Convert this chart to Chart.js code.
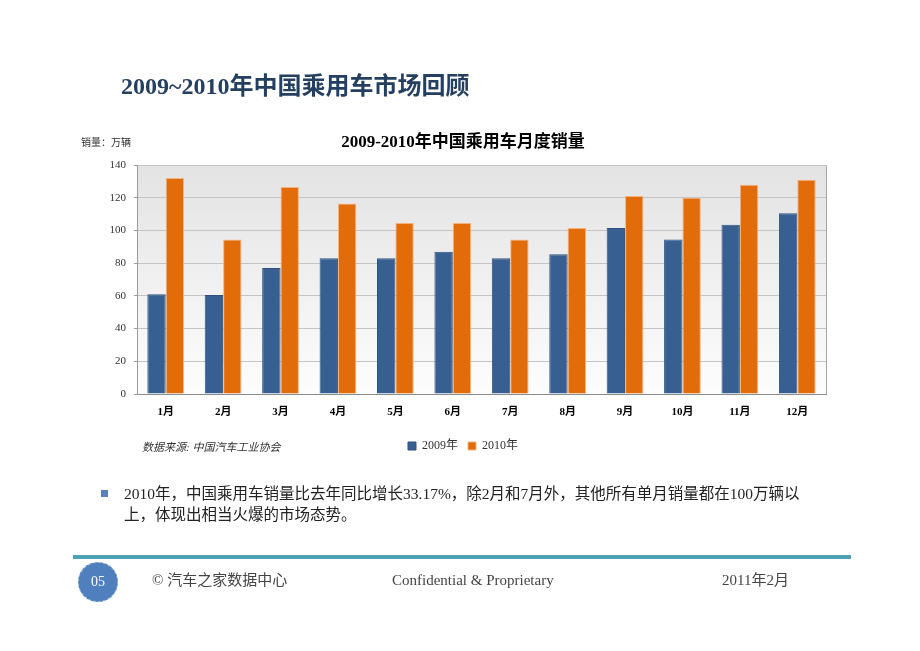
<!DOCTYPE html>
<html>
<head>
<meta charset="utf-8">
<script src="https://cdn.jsdelivr.net/npm/chart.js@4/dist/chart.umd.min.js"></script>
<style>
  html, body { margin: 0; padding: 0; background: #fff; }
  #wrap { position: relative; width: 920px; height: 651px; overflow: hidden; background: #fff; }
  #c { position: absolute; left: 0; top: 0; }
  .t { position: absolute; white-space: nowrap; font-family: "Liberation Serif", "Noto Sans CJK SC", serif; }
  #pageTitle { left: 121px; top: 70px; font-size: 24px; font-weight: bold; color: #243f60; line-height: 32px; }
  #unit { left: 81px; top: 134px; font-size: 10px; color: #333; }
  #src { left: 142px; top: 438px; font-size: 11px; font-style: italic; color: #333; }
  #bulletSq { position: absolute; left: 101px; top: 490px; width: 7px; height: 7px; background: #5a84b9; }
  #bullet { left: 124px; top: 483px; font-size: 15.5px; color: #222; line-height: 21px; }
  #rule { position: absolute; left: 73px; top: 555px; width: 778px; height: 4px; background: #4fa2b6; }
  #circle { position: absolute; left: 78px; top: 562px; width: 38px; height: 38px; border-radius: 50%; background: #4f7fbd; border: 1px dashed #8fb0d8; color: #fff; font-family: "Liberation Serif", serif; font-size: 14px; text-align: center; line-height: 38px; }
  .foot { top: 571px; font-size: 15px; color: #444; line-height: 18px; }
</style>
</head>
<body>
<div id="wrap">
  <canvas id="c" width="920" height="651"></canvas>
  <div class="t" id="pageTitle">2009~2010年中国乘用车市场回顾</div>
  <div class="t" id="unit">销量：万辆</div>
  <div class="t" id="src">数据来源: 中国汽车工业协会</div>
  <div id="bulletSq"></div>
  <div class="t" id="bullet">2010年，中国乘用车销量比去年同比增长33.17%，除2月和7月外，其他所有单月销量都在100万辆以<br>上，体现出相当火爆的市场态势。</div>
  <div id="rule"></div>
  <div id="circle">05</div>
  <div class="t foot" style="left:152px">© 汽车之家数据中心</div>
  <div class="t foot" style="left:392px">Confidential &amp; Proprietary</div>
  <div class="t foot" style="left:722px">2011年2月</div>
</div>
<script>
const chartTitle = "2009-2010年中国乘用车月度销量";
const months = ["1月","2月","3月","4月","5月","6月","7月","8月","9月","10月","11月","12月"];
const seriesNames = ["2009年", "2010年"];
const sales2009 = [61, 60.5, 77, 83, 83, 87, 83, 85.5, 101.5, 94.5, 103.5, 110.5];
const sales2010 = [132, 94.5, 126.5, 116.5, 104.5, 104.5, 94.5, 101.5, 121, 120, 128, 131];
const yMin = 0, yMax = 140, yStep = 20;

const FONT = "'Liberation Serif', 'Noto Sans CJK SC', serif";

const plotBg = {
  id: 'plotBg',
  beforeDraw(chart) {
    const {ctx, chartArea: a} = chart;
    ctx.save();
    const g = ctx.createLinearGradient(0, a.top, 0, a.bottom);
    g.addColorStop(0, '#e3e3e3');
    g.addColorStop(1, '#fdfdfd');
    ctx.fillStyle = g;
    ctx.fillRect(a.left, a.top, a.right - a.left, a.bottom - a.top);
    ctx.strokeStyle = '#a6a6a6';
    ctx.lineWidth = 1;
    ctx.beginPath();
    ctx.moveTo(a.left, a.top + 0.5);
    ctx.lineTo(a.right + 0.5, a.top + 0.5);
    ctx.lineTo(a.right + 0.5, a.bottom);
    ctx.stroke();
    ctx.restore();
  }
};

new Chart(document.getElementById('c'), {
  type: 'bar',
  data: {
    labels: months,
    datasets: [
      { label: seriesNames[0], data: sales2009, backgroundColor: '#375f92', borderColor: '#2e5280', borderWidth: 1, borderSkipped: 'bottom' },
      { label: seriesNames[1], data: sales2010, backgroundColor: '#e36c0a', borderColor: '#f6b27a', borderWidth: 1, borderSkipped: 'bottom' }
    ]
  },
  options: {
    responsive: false,
    devicePixelRatio: 1,
    animation: false,
    layout: { autoPadding: false, padding: { top: 132, left: 100, right: 94, bottom: 189 } },
    datasets: { bar: { categoryPercentage: 0.64, barPercentage: 1.0 } },
    plugins: {
      title: {
        display: true, text: chartTitle, color: '#000',
        font: { family: FONT, size: 17, weight: 'bold', lineHeight: 1.2 },
        padding: { top: 0, bottom: 12.6 }
      },
      legend: {
        position: 'bottom',
        labels: { boxWidth: 8, boxHeight: 8, padding: 10, color: '#333', font: { family: FONT, size: 12 } }
      },
      tooltip: { enabled: false }
    },
    scales: {
      x: {
        afterFit(s) { s.height = 36; },
        grid: { display: false, drawTicks: false },
        border: { display: true, color: '#8c8c8c' },
        ticks: { color: '#000', padding: 12, font: { family: FONT, size: 11, weight: 'bold' } }
      },
      y: {
        min: yMin, max: yMax,
        afterFit(s) { s.width = 37; },
        grid: { color: '#c4c4c4', drawTicks: true, tickLength: 3, tickColor: '#9a9a9a' },
        border: { display: true, color: '#9a9a9a' },
        ticks: { stepSize: yStep, color: '#333', padding: 8, font: { family: FONT, size: 11 } }
      }
    }
  },
  plugins: [plotBg]
});
</script>
</body>
</html>
